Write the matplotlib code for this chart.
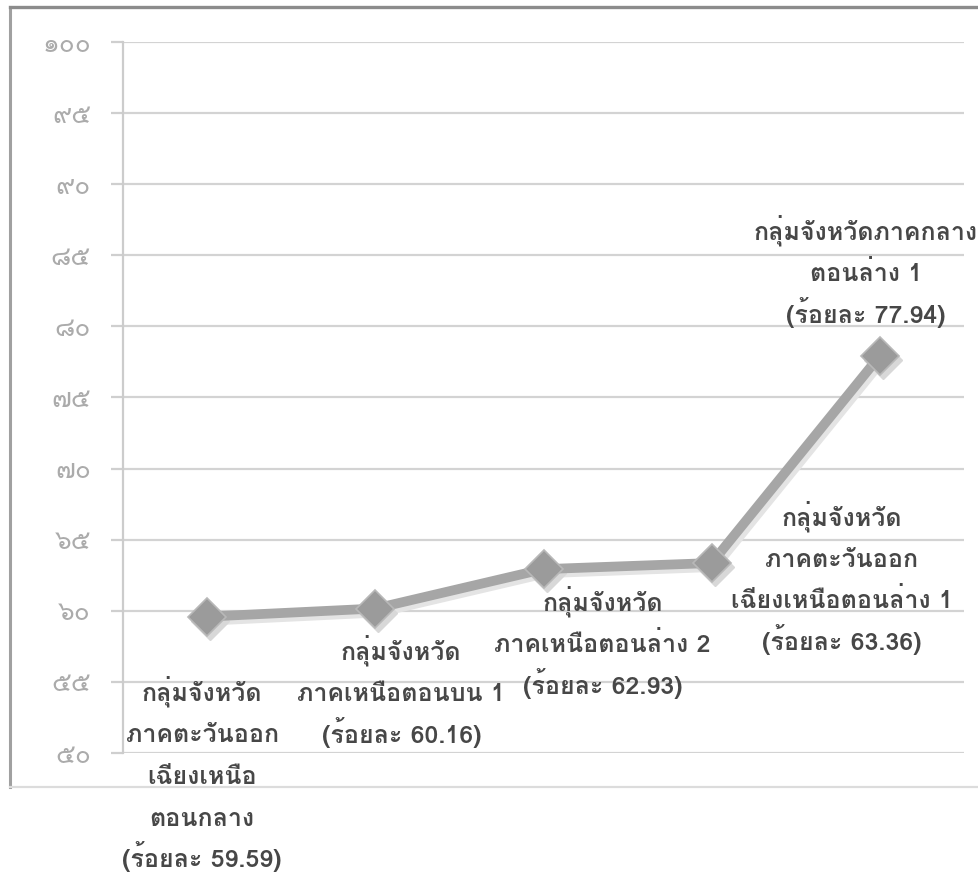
import matplotlib
matplotlib.use('Agg')
import matplotlib.pyplot as plt
import matplotlib.transforms as mtrans
from matplotlib.lines import Line2D

# ---- data ----
categories = [
    "กลุ่มจังหวัด\nภาคตะวันออก\nเฉียงเหนือ\nตอนกลาง",
    "กลุ่มจังหวัด\nภาคเหนือตอนบน 1",
    "กลุ่มจังหวัด\nภาคเหนือตอนล่าง 2",
    "กลุ่มจังหวัด\nภาคตะวันออก\nเฉียงเหนือตอนล่าง 1",
    "กลุ่มจังหวัดภาคกลาง\nตอนล่าง 1",
]
values = [59.59, 60.16, 62.93, 63.36, 77.94]
y_ticks = [50, 55, 60, 65, 70, 75, 80, 85, 90, 95, 100]
y_tick_labels = ["๕๐", "๕๕", "๖๐", "๖๕", "๗๐", "๗๕", "๘๐", "๘๕", "๙๐", "๙๕", "๑๐๐"]
label_prefix = "ร้อยละ"
# label placement: offset (pixels) of the first line's baseline from each point
label_offsets = [(-5, -84), (26, -51), (59, -41), (130, 38), (-14, 116)]
line_step = 41.7

W, H = 979, 872
fig = plt.figure(figsize=(W / 100, H / 100), dpi=100)
fig.patch.set_facecolor('white')

ax = fig.add_axes([123 / W, 1 - 753 / H, (964 - 123) / W, (753 - 42) / H])
ax.set_facecolor('white')
x = list(range(len(values)))
ax.set_xlim(-0.5, len(values) - 0.5)
ax.set_ylim(50, 100)

ax.set_yticks(y_ticks)
ax.set_yticklabels(y_tick_labels, family=['Loma', 'DejaVu Sans'], fontsize=19, color='#ababab')
ax.set_xticks([])
ax.tick_params(axis='y', length=9, width=1.6, color='#cfcfcf', pad=14)
ax.grid(axis='y', color='#d3d3d3', linewidth=1.6)
ax.set_axisbelow(True)
for s in ['top', 'right', 'bottom']:
    ax.spines[s].set_visible(False)
ax.spines['left'].set_color('#cccccc')
ax.spines['left'].set_linewidth(1.6)

# shadow
shadow = mtrans.offset_copy(ax.transData, fig=fig, x=3, y=-4, units='dots')
ax.plot(x, values, color='#e4e4e4', linewidth=7, marker='D', markersize=19,
        markerfacecolor='#d8d8d8', markeredgecolor='#d8d8d8', transform=shadow,
        solid_capstyle='round', zorder=2)
ax.plot(x, values, color='#a6a6a6', linewidth=7, marker='D', markersize=19,
        markerfacecolor='#9b9b9b', markeredgecolor='#b8b8b8', markeredgewidth=1.2,
        solid_joinstyle='round', zorder=3)

for i, (name, v) in enumerate(zip(categories, values)):
    lines = name.split("\n") + [f"({label_prefix} {v:.2f})"]
    dx, dy = label_offsets[i]
    for k, ln in enumerate(lines):
        ax.annotate(ln, (i, v), xytext=(dx, dy - k * line_step), textcoords='offset pixels',
                    ha='center', va='baseline',
                    family=['Loma', 'DejaVu Sans'], fontweight='bold', fontsize=18,
                    color='#474747', annotation_clip=False, zorder=4)

# outer frame
fx = lambda px: px / W
fy = lambda py: 1 - py / H
fig.add_artist(Line2D([fx(10), fx(10)], [fy(7), fy(787)], color='#a0a0a0', linewidth=2.2))
fig.add_artist(Line2D([fx(10), fx(979)], [fy(7), fy(7)], color='#8c8c8c', linewidth=2.4))
fig.add_artist(Line2D([fx(10), fx(979)], [fy(787), fy(787)], color='#dcdcdc', linewidth=1.6))

fig.savefig('out.png', dpi=100, facecolor='white')
